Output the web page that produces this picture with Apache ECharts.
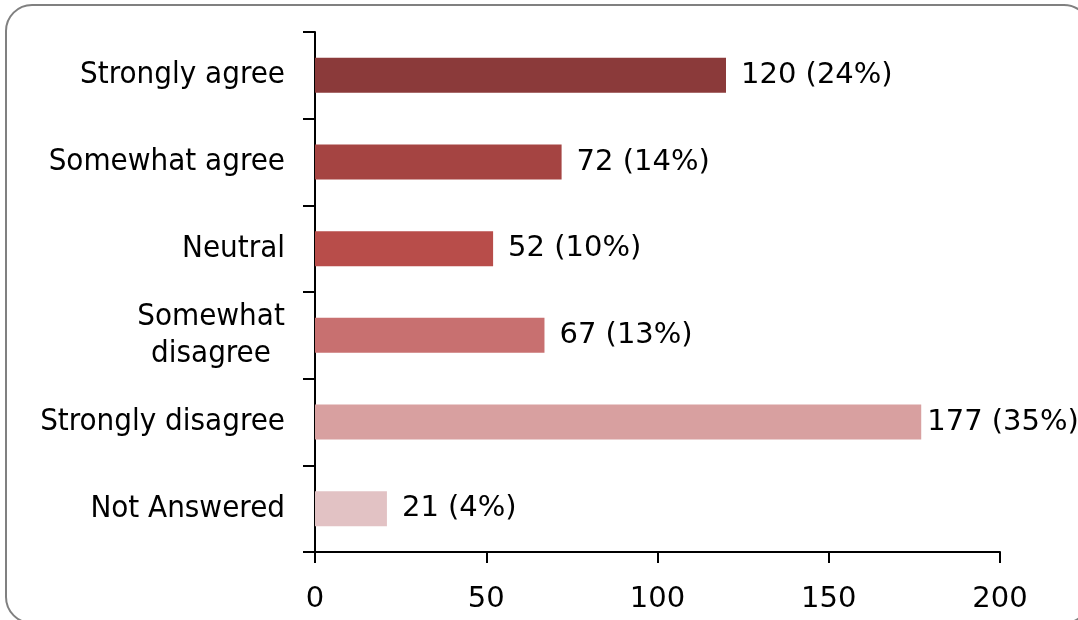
<!DOCTYPE html>
<html>
<head>
<meta charset="utf-8">
<title>Survey responses</title>
<script src="https://cdn.jsdelivr.net/npm/echarts@6/dist/echarts.min.js"></script>
<style>
  html, body { margin: 0; padding: 0; background: #ffffff; }
  #chart { width: 1078px; height: 620px; }
</style>
</head>
<body>
<div id="chart"></div>
<script>
// Response categories, top to bottom
const categories = ['Strongly agree', 'Somewhat agree', 'Neutral', 'Somewhat disagree', 'Strongly disagree', 'Not Answered'];
// Number of respondents per category
const counts = [120, 72, 52, 67, 177, 21];
// Share of all respondents, in percent
const percents = [24, 14, 10, 13, 35, 4];
// Value axis ticks
const xTicks = [0, 50, 100, 150, 200];

const barColors = ['#8b3a3a', '#a54442', '#b84d4a', '#c87070', '#d8a0a0', '#e2c2c4'];
const FONT = 'DejaVu Sans';
const FONT_CAT = 'DejaVu Sans Condensed';

const chart = echarts.init(document.getElementById('chart'));

const data = counts.map((v, i) => ({
  value: v,
  itemStyle: { color: barColors[i] },
  // long bars get their label pulled in so it stays inside the frame
  label: { distance: v > 170 ? 6 : 15 }
}));

chart.setOption({
  animation: false,
  backgroundColor: '#ffffff',
  graphic: [{
    type: 'rect',
    shape: { x: 6, y: 5, width: 1084, height: 618, r: 26 },
    style: { fill: 'none', stroke: '#808080', lineWidth: 2 },
    silent: true
  }],
  grid: { left: 315, right: 78, top: 32, bottom: 68, containLabel: false },
  xAxis: {
    type: 'value',
    min: xTicks[0],
    max: xTicks[xTicks.length - 1],
    interval: xTicks[1] - xTicks[0],
    axisLine: { show: true, lineStyle: { color: '#000', width: 2 } },
    axisTick: { show: true, length: 11, lineStyle: { color: '#000', width: 2 } },
    splitLine: { show: false },
    axisLabel: { color: '#000', fontFamily: FONT, fontSize: 29, margin: 33 }
  },
  yAxis: {
    type: 'category',
    inverse: true,
    data: categories,
    axisLine: { show: true, lineStyle: { color: '#000', width: 2 } },
    axisTick: { show: true, length: 12, lineStyle: { color: '#000', width: 2 } },
    axisLabel: {
      color: '#000', fontFamily: FONT_CAT, fontSize: 31, margin: 30, lineHeight: 37,
      formatter: function (name) {
        if (name === 'Somewhat disagree') {
          return '{c|Somewhat}\n{c|disagree}';
        }
        return name;
      },
      rich: {
        c: { width: 148, align: 'center', color: '#000', fontFamily: FONT_CAT, fontSize: 31, lineHeight: 37 }
      }
    }
  },
  series: [{
    type: 'bar',
    data: data,
    barWidth: 35,
    label: {
      show: true,
      position: 'right',
      color: '#000',
      fontFamily: FONT,
      fontSize: 29,
      formatter: function (p) { return p.value + ' (' + percents[p.dataIndex] + '%)'; }
    }
  }]
});
</script>
</body>
</html>
